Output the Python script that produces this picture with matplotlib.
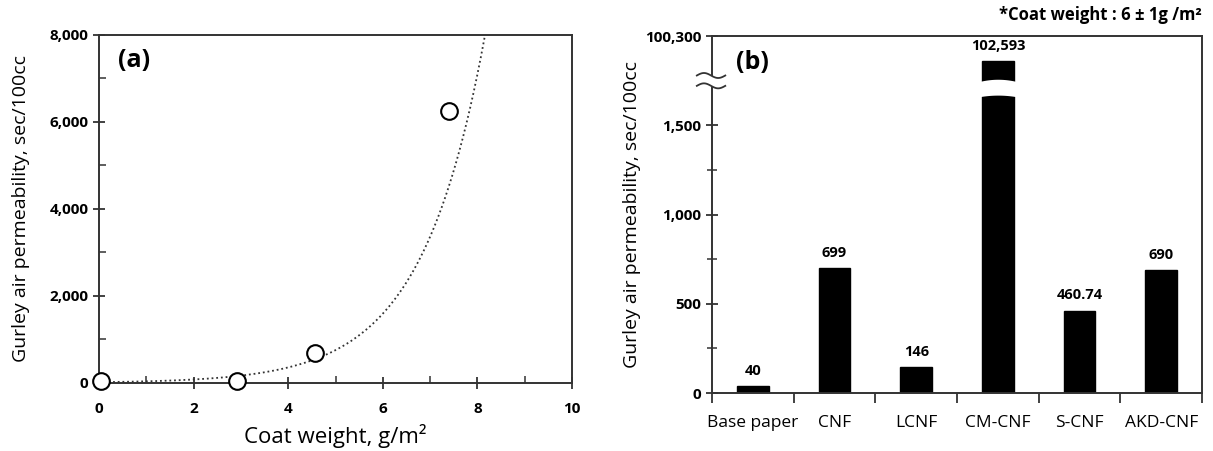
import matplotlib
matplotlib.use("Agg")
import matplotlib.pyplot as plt
import matplotlib.transforms as mtransforms
import numpy as np
from matplotlib.ticker import FuncFormatter, MultipleLocator, FixedLocator

plt.rcParams['font.family'] = ['Open Sans', 'DejaVu Sans']

# (a) coat weight vs Gurley air permeability
coat_weight = [0.05, 2.92, 4.57, 7.4]
gurley = [35, 50, 680, 6250]

# (b) bar chart with a broken y axis
samples = ['Base paper', 'CNF', 'LCNF', 'CM-CNF', 'S-CNF', 'AKD-CNF']
bar_heights = [40, 699, 146, 1860, 460.74, 690]   # CM-CNF drawn on the broken top segment
bar_labels = ['40', '699', '146', '102,593', '460.74', '690']
b_ticks = [0, 500, 1000, 1500, 2000]
b_ticklabels = ['0', '500', '1,000', '1,500', '100,300']

spine_col = '#333333'
fig = plt.figure(figsize=(12.13, 4.51), dpi=100)

# ---------- panel (a) ----------
ax1 = fig.add_axes([0.0816, 0.1508, 0.390, 0.7716])
fit = np.polyfit(coat_weight, np.log(gurley), 1)
xx = np.linspace(0, 10, 400)
ax1.plot(xx, np.exp(np.polyval(fit, xx)), linestyle=(0, (1, 1.6)), color='#333333', lw=1.3)
ax1.plot(coat_weight, gurley, 'o', ms=12, mfc='white', mec='black', mew=1.5,
         clip_on=False, zorder=5)
ax1.set_xlim(0, 10)
ax1.set_ylim(0, 8000)
ax1.xaxis.set_major_locator(MultipleLocator(2))
ax1.xaxis.set_minor_locator(MultipleLocator(1))
ax1.yaxis.set_major_locator(MultipleLocator(2000))
ax1.yaxis.set_minor_locator(MultipleLocator(1000))
ax1.yaxis.set_major_formatter(FuncFormatter(lambda v, p: f'{int(v):,}'))
ax1.tick_params(which='major', direction='inout', length=9, width=1.3, color=spine_col,
                labelsize=11, pad=3)
ax1.tick_params(axis='x', which='major', pad=9)
ax1.tick_params(which='minor', direction='in', length=5, width=1.1, color=spine_col)
for lab in ax1.get_xticklabels() + ax1.get_yticklabels():
    lab.set_fontweight('bold')
ax1.set_xlabel('Coat weight, g/m²', fontsize=16, labelpad=6)
ax1.set_ylabel('Gurley air permeability, sec/100cc', fontsize=14, labelpad=14)
ax1.text(0.04, 0.928, '(a)', transform=ax1.transAxes, fontsize=18, fontweight='bold',
         va='center', ha='left')
for s in ax1.spines.values():
    s.set_color(spine_col)
    s.set_linewidth(1.4)

# ---------- panel (b) ----------
ax2 = fig.add_axes([0.587, 0.1286, 0.404, 0.791])
pos = np.arange(len(samples))
ax2.bar(pos, bar_heights, width=0.39, color='black', edgecolor='black', zorder=2)
for p, h, t in zip(pos, bar_heights, bar_labels):
    ax2.annotate(t, (p, h), xytext=(0, 6), textcoords='offset points', ha='center',
                 va='bottom', fontsize=10.5, fontweight='bold')

# white gap through the CM-CNF bar
ci = samples.index('CM-CNF')
gx = np.linspace(ci - 0.24, ci + 0.24, 60)
bump = 1 - ((gx - ci) / 0.24) ** 2
ax2.fill_between(gx, 1660 + 10 * bump, 1745 + 14 * bump, color='white', zorder=3, lw=0)

ax2.set_xlim(-0.5, len(samples) - 0.5)
ax2.set_ylim(0, 2000)
ax2.xaxis.set_major_locator(FixedLocator(np.arange(-0.5, len(samples), 1.0)))
ax2.xaxis.set_major_formatter(FuncFormatter(lambda v, p: ''))
ax2.xaxis.set_minor_locator(FixedLocator(pos))
ax2.set_xticks(pos, samples, minor=True)
ax2.tick_params(axis='x', which='major', direction='out', length=7, width=1.3, color=spine_col)
ax2.tick_params(axis='x', which='minor', length=0, labelsize=12.5, pad=16)
ax2.set_yticks(b_ticks, b_ticklabels)
ax2.yaxis.set_minor_locator(FixedLocator([250, 750, 1250]))
ax2.tick_params(axis='y', which='major', direction='inout', length=9, width=1.3,
                color=spine_col, labelsize=11, pad=3)
ax2.tick_params(axis='y', which='minor', direction='inout', length=7, width=1.1,
                color=spine_col)
for lab in ax2.get_yticklabels():
    lab.set_fontweight('bold')
ax2.set_ylabel('Gurley air permeability, sec/100cc', fontsize=14, labelpad=3)
ax2.text(0.049, 0.927, '(b)', transform=ax2.transAxes, fontsize=18, fontweight='bold',
         va='center', ha='left')
for s in ax2.spines.values():
    s.set_color(spine_col)
    s.set_linewidth(1.4)

# axis break marks on the left spine
trans = mtransforms.blended_transform_factory(ax2.transAxes, ax2.transData)
ax2.fill_between([-0.01, 0.01], 1722, 1780, color='white', transform=trans,
                 clip_on=False, zorder=4, lw=0)
wx = np.linspace(-0.031, 0.027, 40)
wave = np.sin(2 * np.pi * (wx - wx[0]) / (wx[-1] - wx[0]))
for y0 in (1780, 1722):
    ax2.plot(wx, y0 + 14 * wave, color=spine_col, lw=1.3, transform=trans,
             clip_on=False, zorder=5)

fig.text(0.991, 0.967, '*Coat weight : 6 ± 1g /m²', ha='right', va='center',
         fontsize=12, fontweight='bold')

fig.savefig('out.png', dpi=100)
